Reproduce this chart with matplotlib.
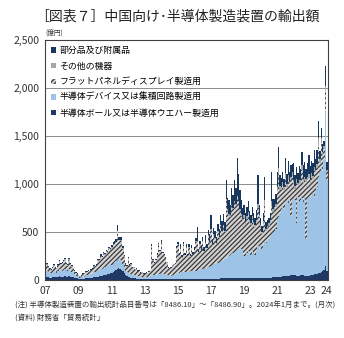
import matplotlib
matplotlib.use("Agg")
import matplotlib.pyplot as plt
import numpy as np

plt.rcParams["font.family"] = ["Noto Sans CJK JP", "DejaVu Sans"]
plt.rcParams["hatch.linewidth"] = 0.9

TITLE = "［図表７］中国向け･半導体製造装置の輸出額"
UNIT = "(億円)"
NOTE = "(注) 半導体製造装置の輸出統計品目番号は「8486.10」～「8486.90」。2024年1月まで。(月次)"
SOURCE = "(資料) 財務省「貿易統計」"

SERIES_NAMES = [
    "半導体ボール又は半導体ウエハー製造用",
    "半導体デバイス又は集積回路製造用",
    "フラットパネルディスプレイ製造用",
    "その他の機器",
    "部分品及び附属品",
]

# monthly values, 2007-01 .. 2024-01 (億円)
wafer = [
    35, 30, 30, 25, 25, 30, 35, 30, 30, 35, 40, 35,  # 2007
    35, 35, 40, 35, 35, 40, 35, 30, 30, 25, 20, 20,  # 2008
    15, 12, 12, 15, 15, 18, 20, 20, 22, 25, 25, 30,  # 2009
    30, 35, 35, 40, 45, 45, 50, 55, 55, 60, 65, 70,  # 2010
    75, 85, 95, 105, 115, 120, 115, 105, 90, 70, 50, 40,  # 2011
    35, 30, 25, 22, 20, 18, 15, 15, 12, 12, 12, 12,  # 2012
    10, 10, 10, 10, 10, 12, 12, 12, 12, 12, 12, 12,  # 2013
    12, 12, 12, 12, 10, 10, 10, 10, 10, 10, 12, 12,  # 2014
    12, 12, 12, 12, 12, 12, 12, 12, 12, 12, 12, 12,  # 2015
    12, 12, 12, 12, 12, 12, 12, 12, 12, 15, 15, 15,  # 2016
    15, 15, 15, 15, 15, 15, 15, 18, 18, 18, 20, 20,  # 2017
    20, 20, 20, 20, 20, 20, 20, 20, 20, 20, 18, 18,  # 2018
    20, 18, 18, 18, 18, 18, 18, 20, 20, 20, 22, 22,  # 2019
    20, 20, 20, 22, 22, 22, 25, 25, 25, 28, 28, 30,  # 2020
    30, 32, 35, 35, 38, 40, 40, 42, 45, 45, 48, 50,  # 2021
    50, 50, 45, 45, 45, 50, 50, 50, 45, 45, 40, 45,  # 2022
    50, 55, 55, 60, 60, 65, 70, 70, 80, 90, 100, 150,  # 2023
    90,  # 2024
]
device = [
    70, 60, 50, 45, 40, 45, 55, 50, 45, 60, 70, 60,
    60, 65, 70, 60, 55, 70, 55, 50, 45, 35, 25, 20,
    15, 12, 15, 20, 20, 25, 30, 30, 35, 40, 45, 50,
    45, 50, 55, 60, 65, 70, 75, 80, 80, 85, 90, 95,
    80, 85, 90, 90, 95, 95, 90, 85, 75, 60, 45, 40,
    40, 35, 35, 30, 30, 28, 25, 25, 22, 22, 20, 20,
    20, 22, 25, 25, 30, 40, 40, 40, 45, 50, 55, 55,
    55, 50, 50, 45, 40, 35, 35, 35, 40, 40, 45, 50,
    60, 65, 70, 70, 75, 75, 70, 70, 75, 80, 80, 85,
    80, 85, 90, 90, 95, 100, 100, 105, 110, 115, 120, 125,
    130, 140, 150, 150, 160, 160, 170, 170, 180, 190, 200, 210,
    220, 230, 240, 250, 260, 270, 280, 290, 290, 300, 300, 300,
    230, 220, 260, 280, 250, 240, 300, 260, 240, 280, 330, 300,
    340, 300, 360, 380, 360, 380, 400, 420, 450, 460, 480, 500,
    600, 620, 650, 700, 720, 700, 750, 780, 760, 800, 620, 780,
    800, 780, 550, 820, 760, 780, 800, 760, 820, 380, 800, 820,
    800, 820, 850, 780, 880, 900, 1000, 1050, 1100, 1050, 1150, 1600,
    950,
]
fpd = [
    70, 70, 50, 40, 35, 45, 60, 45, 40, 60, 80, 70,
    75, 90, 100, 70, 60, 100, 70, 60, 40, 30, 25, 20,
    15, 10, 15, 25, 30, 40, 35, 45, 30, 40, 40, 60,
    60, 70, 110, 100, 140, 120, 150, 130, 160, 140, 170, 150,
    180, 200, 190, 200, 310, 200, 210, 220, 160, 110, 70, 60,
    150, 90, 100, 70, 80, 60, 70, 50, 60, 40, 45, 30,
    30, 40, 30, 50, 60, 300, 150, 120, 150, 200, 300, 230,
    330, 220, 200, 170, 130, 80, 70, 80, 100, 110, 110, 270,
    300, 180, 260, 150, 280, 170, 260, 160, 250, 150, 240, 170,
    220, 300, 300, 180, 260, 200, 300, 180, 280, 200, 330, 250,
    380, 200, 300, 260, 200, 330, 250, 380, 300, 350, 280, 600,
    480, 420, 400, 500, 460, 520, 480, 550, 500, 400, 350, 300,
    400, 350, 360, 380, 330, 320, 320, 300, 290, 300, 400, 330,
    180, 160, 200, 380, 130, 140, 140, 160, 300, 220, 220, 230,
    300, 450, 250, 200, 220, 200, 280, 150, 250, 150, 380, 250,
    150, 120, 420, 120, 200, 180, 300, 200, 180, 600, 200, 200,
    150, 200, 150, 300, 180, 200, 350, 100, 250, 150, 120, 230,
    80,
]
other = [
    5, 5, 5, 5, 5, 5, 5, 5, 5, 5, 5, 5,
    5, 5, 5, 5, 5, 5, 5, 5, 5, 5, 5, 5,
    3, 3, 3, 3, 3, 3, 3, 3, 3, 3, 3, 3,
    4, 4, 4, 4, 4, 4, 4, 4, 4, 4, 4, 4,
    5, 5, 5, 5, 5, 5, 5, 5, 5, 5, 5, 5,
    4, 4, 4, 4, 4, 4, 4, 4, 4, 4, 4, 4,
    3, 3, 3, 3, 3, 3, 3, 3, 3, 3, 3, 3,
    3, 3, 3, 3, 3, 3, 3, 3, 3, 3, 3, 3,
    4, 4, 4, 4, 4, 4, 4, 4, 4, 4, 4, 4,
    5, 5, 5, 5, 5, 5, 5, 5, 5, 5, 5, 5,
    10, 10, 10, 10, 10, 10, 10, 10, 10, 10, 10, 10,
    15, 15, 15, 15, 15, 15, 15, 15, 15, 15, 15, 15,
    30, 20, 25, 30, 25, 20, 25, 20, 20, 25, 40, 30,
    30, 20, 30, 50, 20, 20, 25, 25, 45, 30, 30, 30,
    40, 60, 40, 30, 40, 30, 40, 30, 40, 30, 30, 40,
    40, 30, 40, 30, 40, 30, 50, 40, 30, 30, 30, 40,
    40, 40, 30, 40, 30, 40, 60, 40, 50, 40, 30, 40,
    30,
]
parts = [
    10, 10, 10, 8, 8, 8, 10, 8, 8, 10, 10, 10,
    10, 10, 12, 10, 10, 15, 10, 10, 8, 8, 6, 6,
    5, 4, 5, 6, 6, 8, 8, 8, 8, 10, 10, 12,
    8, 8, 10, 10, 12, 12, 14, 14, 15, 15, 16, 16,
    20, 20, 25, 25, 45, 30, 30, 30, 20, 15, 10, 10,
    10, 8, 8, 6, 6, 6, 6, 5, 5, 5, 5, 5,
    5, 5, 5, 5, 5, 15, 10, 10, 10, 15, 15, 15,
    15, 10, 10, 8, 8, 5, 5, 5, 5, 6, 6, 15,
    20, 25, 30, 25, 30, 20, 25, 20, 30, 25, 30, 20,
    30, 40, 140, 40, 30, 50, 30, 40, 60, 40, 50, 80,
    140, 60, 70, 80, 60, 70, 90, 100, 110, 120, 90, 200,
    120, 150, 110, 170, 130, 220, 160, 400, 280, 200, 150, 120,
    100, 90, 100, 120, 100, 80, 100, 100, 80, 100, 300, 100,
    80, 60, 90, 240, 70, 60, 60, 70, 300, 110, 90, 110,
    150, 220, 120, 100, 110, 80, 160, 100, 140, 100, 120, 90,
    180, 110, 120, 100, 140, 120, 130, 150, 150, 100, 150, 200,
    150, 120, 130, 170, 110, 150, 180, 80, 100, 90, 50, 210,
    80,
]

tick_pos = [0, 24, 48, 72, 96, 120, 144, 168, 192, 204]
tick_labels = ["07", "09", "11", "13", "15", "17", "19", "21", "23", "24"]

styles = [
    dict(color="#1f3864"),
    dict(color="#9dc3e6"),
    dict(color="#d4d4d4", hatch="///////", edgecolor="#3a3a3a"),
    dict(color="#a6a6a6"),
    dict(color="#17375e"),
]

fig = plt.figure(figsize=(3.44, 3.38), dpi=100)
ax = fig.add_axes([45 / 344, 1 - 280 / 338, 282.5 / 344, 240 / 338])

x = np.arange(len(wafer))
bottom = np.zeros(len(x))
bars = []
for vals, name, st in zip([wafer, device, fpd, other, parts], SERIES_NAMES, styles):
    b = ax.bar(x, vals, width=1.0, bottom=bottom, label=name, linewidth=0, **st)
    bars.append(b)
    bottom += np.array(vals)

ax.set_xlim(-0.5, len(x) - 0.5)
ax.set_ylim(0, 2500)
ax.set_yticks([0, 500, 1000, 1500, 2000, 2500])
ax.set_yticklabels(["0", "500", "1,000", "1,500", "2,000", "2,500"])
ax.set_xticks(tick_pos)
ax.set_xticklabels(tick_labels)
ax.tick_params(length=0, labelsize=7.5, colors="#333333", pad=4)
ax.yaxis.grid(True, color="#8c8c8c", linewidth=0.7)
ax.set_axisbelow(True)
for sp in ax.spines.values():
    sp.set_color("#404040")
    sp.set_linewidth(0.8)

# legend lists the top of the stack first
leg = ax.legend(
    bars[::-1], SERIES_NAMES[::-1],
    loc="upper left", bbox_to_anchor=(0.0, 1.0),
    frameon=False, fontsize=6.4,
    handlelength=0.55, handleheight=0.55, handletextpad=0.35,
    labelspacing=0.75, borderaxespad=0.3,
)

fig.text(0.5145, 1 - 17 / 338, TITLE, ha="center", va="center", fontsize=10, color="#222222")
fig.text(45 / 344, 1 - 33 / 338, UNIT, ha="left", va="center", fontsize=4.8, color="#333333")
fig.text(15 / 344, 1 - 306 / 338, NOTE, ha="left", va="center", fontsize=5.4, color="#333333")
fig.text(15 / 344, 1 - 318 / 338, SOURCE, ha="left", va="center", fontsize=5.4, color="#333333")

fig.savefig("out.png", dpi=100)
